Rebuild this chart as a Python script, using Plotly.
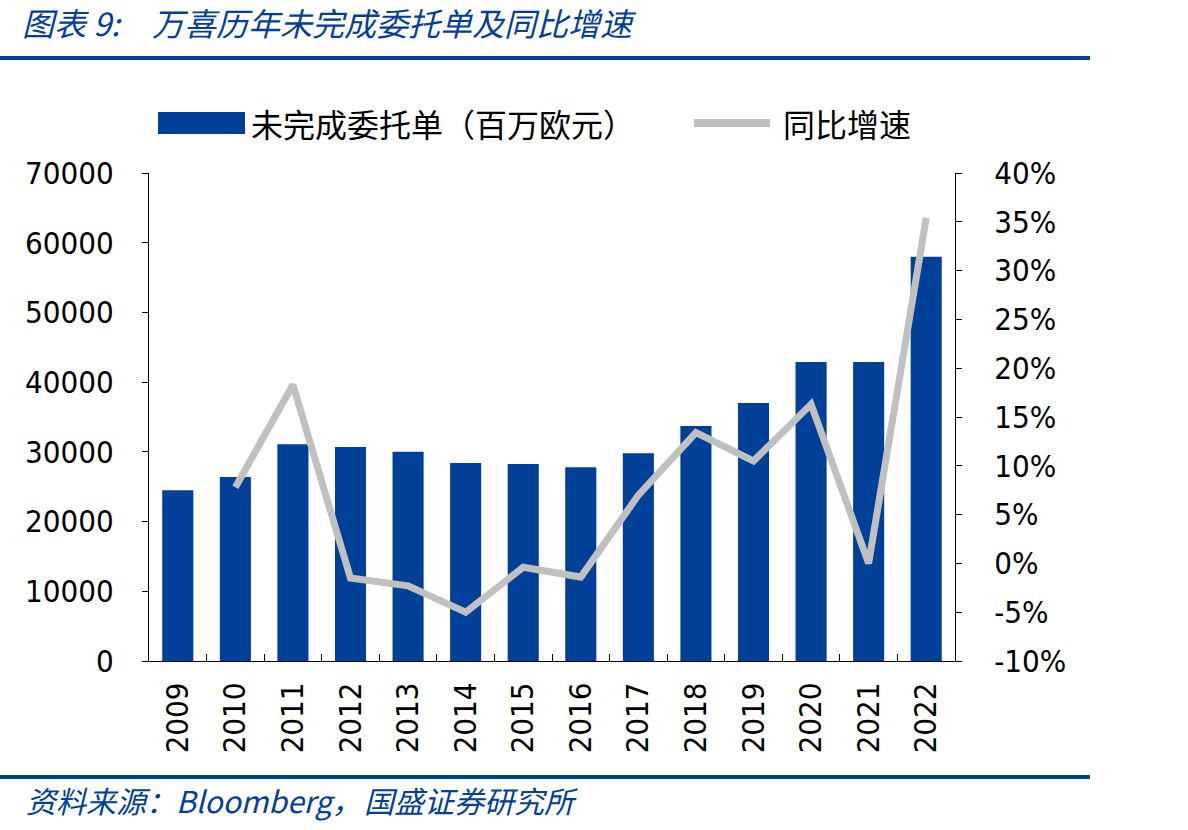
import plotly.graph_objects as go

years = ["2009", "2010", "2011", "2012", "2013", "2014", "2015",
         "2016", "2017", "2018", "2019", "2020", "2021", "2022"]
backlog = [24500, 26400, 31100, 30700, 30000, 28400, 28250,
           27800, 29800, 33700, 37000, 42900, 42900, 58000]
yoy = [None, 0.078, 0.183, -0.015, -0.023, -0.050, -0.004,
       -0.014, 0.070, 0.134, 0.105, 0.163, 0.000, 0.354]

y2_vals = [-0.10, -0.05, 0.0, 0.05, 0.10, 0.15, 0.20, 0.25, 0.30, 0.35, 0.40]
y2_text = ["-10%", "-5%", "0%", "5%", "10%", "15%", "20%", "25%", "30%", "35%", "40%"]

title_prefix = "图表 9:"
title_text = "万喜历年未完成委托单及同比增速"
source_prefix = "资料来源：Bloomberg，"
source_rest = "国盛证券研究所"
legend_bar = "未完成委托单（百万欧元）"
legend_line = "同比增速"

BLUE = "#014099"
GRAY = "#c0c0c0"
W, H = 1188, 830
L, R, T, B = 149, 233, 173, 169
PW, PH = W - L - R, H - T - B

def px(x):
    return (x - L) / PW

def py(y):
    return (H - B - y) / PH

TICKFONT = dict(family="DejaVu Sans Condensed, DejaVu Sans, sans-serif", size=31, color="black")
CJK = "Noto Sans CJK SC"

fig = go.Figure()
fig.add_trace(go.Bar(x=years, y=backlog, marker=dict(color=BLUE, line=dict(width=0)),
                     width=0.54, name=legend_bar, showlegend=False))
fig.add_trace(go.Scatter(x=years, y=yoy, yaxis="y2", mode="lines",
                         line=dict(color=GRAY, width=7), name=legend_line,
                         showlegend=False, connectgaps=False))

fig.update_layout(
    width=W, height=H,
    margin=dict(l=L, r=R, t=T, b=B, pad=0),
    paper_bgcolor="white", plot_bgcolor="white",
    bargap=0.46,
    xaxis=dict(type="category", range=[-0.5, 13.5], showline=True, linecolor="black", linewidth=1,
               ticks="inside", ticklen=7, tickcolor="black", tickson="boundaries",
               tickangle=-90, tickfont=TICKFONT, showgrid=False, zeroline=False,
               ticklabelstandoff=8),
    yaxis=dict(range=[0, 70000], dtick=10000, showline=True, linecolor="black", linewidth=1,
               ticks="outside", ticklen=6, tickcolor="black", tickfont=TICKFONT,
               showgrid=False, zeroline=False, tickformat="d", ticklabelstandoff=22),
    yaxis2=dict(range=[-0.10, 0.40], overlaying="y", side="right", tickvals=y2_vals,
                ticktext=y2_text, showline=True, linecolor="black", linewidth=1,
                ticks="outside", ticklen=6, tickcolor="black", tickfont=TICKFONT,
                showgrid=False, zeroline=False, ticklabelstandoff=26),
)

shapes = [
    dict(type="line", xref="paper", yref="paper", x0=px(0), x1=px(1090), y0=py(58), y1=py(58),
         line=dict(color=BLUE, width=4)),
    dict(type="line", xref="paper", yref="paper", x0=px(0), x1=px(1090), y0=py(777), y1=py(777),
         line=dict(color=BLUE, width=4)),
    dict(type="rect", xref="paper", yref="paper", x0=px(158), x1=px(245), y0=py(134), y1=py(112),
         fillcolor=BLUE, line=dict(width=0)),
    dict(type="line", xref="paper", yref="paper", x0=px(694), x1=px(770), y0=py(123), y1=py(123),
         line=dict(color=GRAY, width=8)),
]
annotations = [
    dict(text="<i>" + title_prefix + "</i>", xref="paper", yref="paper", x=px(20), y=py(22),
         xanchor="left", yanchor="middle", showarrow=False,
         font=dict(family=CJK, size=32, color=BLUE)),
    dict(text="<i>" + title_text + "</i>", xref="paper", yref="paper", x=px(150), y=py(22),
         xanchor="left", yanchor="middle", showarrow=False,
         font=dict(family=CJK, size=32, color=BLUE)),
    dict(text="<i>" + source_prefix + "</i>", xref="paper", yref="paper",
         x=px(24), y=py(800), xanchor="left", yanchor="middle", showarrow=False,
         font=dict(family=CJK, size=30, color=BLUE)),
    dict(text="<i>" + source_rest + "</i>", xref="paper", yref="paper",
         x=px(362), y=py(800), xanchor="left", yanchor="middle", showarrow=False,
         font=dict(family=CJK, size=30, color=BLUE)),
    dict(text=legend_bar, xref="paper", yref="paper", x=px(249), y=py(123),
         xanchor="left", yanchor="middle", showarrow=False,
         font=dict(family=CJK, size=32, color="black")),
    dict(text=legend_line, xref="paper", yref="paper", x=px(781), y=py(123),
         xanchor="left", yanchor="middle", showarrow=False,
         font=dict(family=CJK, size=32, color="black")),
]
fig.update_layout(shapes=shapes, annotations=annotations)

fig.write_html("out.html")
